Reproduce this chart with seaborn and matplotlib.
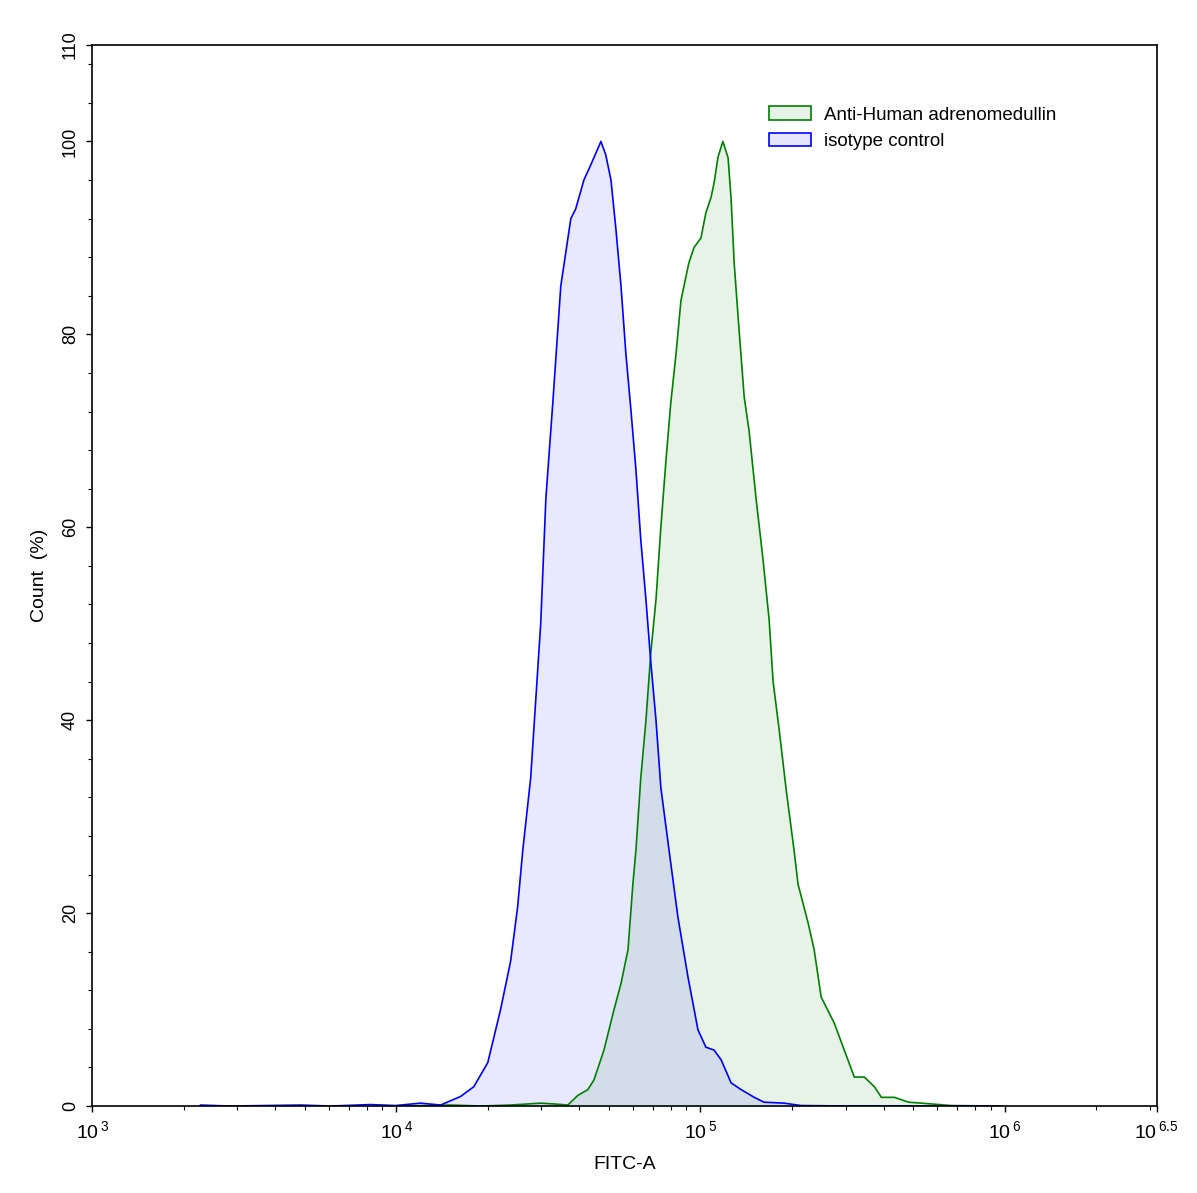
import numpy as np
import pandas as pd
import matplotlib
matplotlib.use('Agg')
import matplotlib.pyplot as plt
import seaborn as sns
from matplotlib.patches import Patch
from matplotlib.ticker import MultipleLocator, FixedLocator, LogLocator, NullFormatter

# isotype control histogram (log10 of FITC-A, count %)
iso_log = [3.356, 3.454, 3.685, 3.784, 3.915, 3.998, 4.080, 4.146, 4.212, 4.255,
           4.301, 4.343, 4.376, 4.399, 4.416, 4.442, 4.475, 4.492, 4.515, 4.541,
           4.574, 4.590, 4.617, 4.640, 4.673, 4.689, 4.706, 4.722, 4.739, 4.755,
           4.772, 4.788, 4.804, 4.821, 4.837, 4.854, 4.870, 4.897, 4.926, 4.959,
           4.992, 5.018, 5.045, 5.068, 5.101, 5.134, 5.177, 5.209, 5.275, 5.331,
           5.496, 5.990]
iso_cnt = [0.1, 0.0, 0.1, 0.0, 0.15, 0.05, 0.3, 0.1, 1.0, 2.0,
           4.5, 10.0, 15.0, 20.6, 26.5, 34.0, 50.0, 63.0, 73.0, 85.0,
           92.0, 93.0, 96.0, 97.6, 100.0, 98.6, 96.0, 91.0, 85.0, 78.0,
           72.0, 66.0, 58.7, 52.5, 46.0, 40.0, 33.0, 26.5, 19.6, 13.4,
           7.9, 6.1, 5.8, 4.8, 2.4, 1.7, 0.9, 0.4, 0.3, 0.05,
           0.0, 0.0]

# Anti-Human adrenomedullin histogram
adm_log = [4.014, 4.179, 4.278, 4.376, 4.475, 4.525, 4.564, 4.597, 4.630, 4.650,
           4.683, 4.716, 4.739, 4.762, 4.778, 4.788, 4.804, 4.821, 4.837, 4.854,
           4.870, 4.887, 4.903, 4.920, 4.936, 4.962, 4.979, 5.002, 5.018, 5.035,
           5.045, 5.058, 5.074, 5.091, 5.101, 5.111, 5.127, 5.144, 5.160, 5.183,
           5.206, 5.226, 5.239, 5.259, 5.282, 5.308, 5.321, 5.354, 5.374, 5.397,
           5.440, 5.473, 5.506, 5.539, 5.572, 5.595, 5.638, 5.684, 5.726, 5.825,
           5.990]
adm_cnt = [0.0, 0.1, 0.0, 0.1, 0.3, 0.2, 0.1, 1.1, 1.7, 2.7,
           5.8, 10.0, 12.7, 16.2, 23.0, 26.5, 34.0, 40.0, 47.0, 52.5,
           60.0, 67.0, 73.0, 78.0, 83.5, 87.4, 89.0, 90.0, 92.6, 94.2,
           95.7, 98.4, 100.0, 98.3, 94.0, 87.4, 80.5, 73.5, 70.0, 63.0,
           56.6, 50.4, 44.0, 39.0, 32.8, 26.5, 23.0, 19.0, 16.2, 11.3,
           8.6, 5.8, 3.0, 3.0, 2.0, 0.9, 0.9, 0.4, 0.3, 0.05,
           0.0]

x_ticks_exp = [3, 4, 5, 6, 6.5]
x_tick_labels = ['$10^{\\,3}$', '$10^{\\,4}$', '$10^{\\,5}$', '$10^{\\,6}$', '$10^{\\,6.5}$']
y_ticks = [0, 20, 40, 60, 80, 100, 110]

iso = pd.DataFrame({'FITC-A': 10 ** np.array(iso_log), 'Count': iso_cnt})
adm = pd.DataFrame({'FITC-A': 10 ** np.array(adm_log), 'Count': adm_cnt})

sns.set_style('ticks')
plt.rcParams['font.family'] = ['Liberation Sans', 'DejaVu Sans']
plt.rcParams['mathtext.fontset'] = 'custom'
plt.rcParams['mathtext.rm'] = 'Liberation Sans'
plt.rcParams['mathtext.default'] = 'regular'
plt.rcParams['text.color'] = 'black'
plt.rcParams['axes.labelcolor'] = 'black'
plt.rcParams['xtick.color'] = 'black'
plt.rcParams['ytick.color'] = 'black'

fig = plt.figure(figsize=(11.97, 11.93), dpi=100)
ax = fig.add_axes([0.0769, 0.0729, 0.8894, 0.8894])

# fills first, then outlines
ax.fill_between(adm['FITC-A'], adm['Count'], color='green', alpha=0.09, linewidth=0)
ax.fill_between(iso['FITC-A'], iso['Count'], color='blue', alpha=0.09, linewidth=0)
sns.lineplot(data=adm, x='FITC-A', y='Count', color='#008000', linewidth=1.2, ax=ax)
sns.lineplot(data=iso, x='FITC-A', y='Count', color='#0000FF', linewidth=1.2, ax=ax)

ax.set_xscale('log')
ax.set_xlim(10 ** 3, 10 ** 6.5)
ax.set_ylim(0, 110)
ax.set_xticks([10 ** e for e in x_ticks_exp])
ax.set_xticklabels(x_tick_labels, fontsize=14)
ax.xaxis.set_minor_locator(LogLocator(base=10, subs=np.arange(2, 10)))
ax.xaxis.set_minor_formatter(NullFormatter())
ax.yaxis.set_major_locator(FixedLocator(y_ticks))
ax.yaxis.set_minor_locator(MultipleLocator(4))
for lbl in ax.get_yticklabels():
    lbl.set_rotation(90)
    lbl.set_va('center')
    lbl.set_fontsize(13)

ax.tick_params(axis='both', which='major', direction='out', length=4.5, width=1,
               color='black', labelcolor='black',
               bottom=True, left=True, top=False, right=False)
ax.tick_params(axis='both', which='minor', direction='out', length=3, width=0.8,
               color='black', bottom=True, left=True, top=False, right=False)
ax.tick_params(axis='x', which='major', pad=6)
ax.tick_params(axis='y', which='major', pad=5)

for s in ax.spines.values():
    s.set_color('black')
    s.set_linewidth(1.2)

ax.set_xlabel('FITC-A', fontsize=14, labelpad=10, color='black')
ax.set_ylabel('Count  (%)', fontsize=14, labelpad=10, color='black')

handles = [Patch(facecolor=(0.9, 0.95, 0.9), edgecolor='#008000', linewidth=1.2),
           Patch(facecolor=(0.9, 0.9, 1.0), edgecolor='#0000FF', linewidth=1.2)]
leg = ax.legend(handles, ['Anti-Human adrenomedullin', 'isotype control'],
                loc='upper left', bbox_to_anchor=(0.62, 0.958), frameon=False,
                fontsize=13.5, handlelength=2.25, handleheight=0.7, labelspacing=0.5,
                handletextpad=0.7)
for t in leg.get_texts():
    t.set_color('black')

fig.savefig('out.png', dpi=100)
